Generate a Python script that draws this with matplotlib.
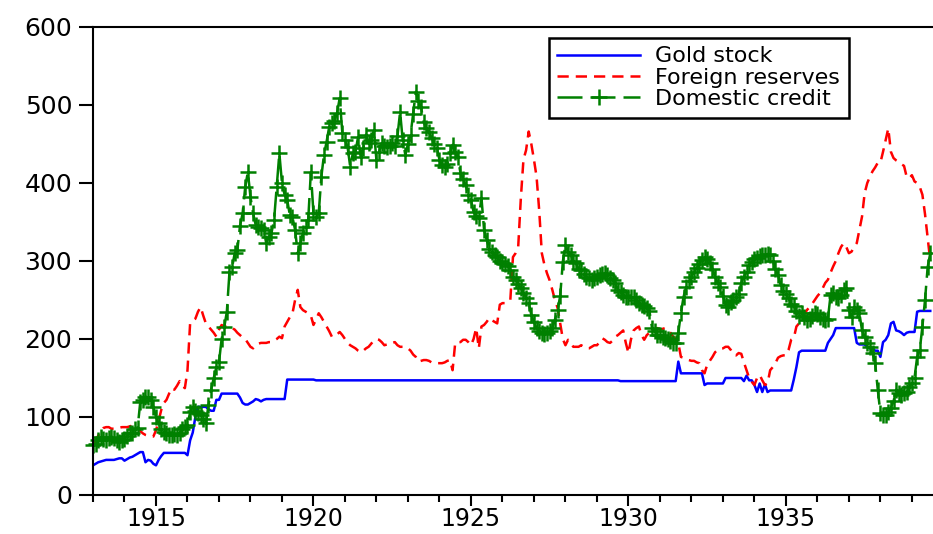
import numpy as np
import matplotlib
matplotlib.use("Agg")
import matplotlib.pyplot as plt
from matplotlib.ticker import MultipleLocator

plt.rcParams['font.family'] = ['DejaVu Sans']

start_year = 1913
tick_years = [1915, 1920, 1925, 1930, 1935]
y_ticks = [0, 100, 200, 300, 400, 500, 600]

gold_stock = [
    38, 40, 42, 43, 44, 45, 45, 45, 45, 46, 47, 47,            # 1913
    44, 46, 48, 49, 51, 53, 55, 55, 42, 45, 44, 40,            # 1914
    38, 45, 50, 54, 54, 54, 54, 54, 54, 54, 54, 54,            # 1915
    51, 70, 80, 100, 113, 113, 113, 113, 110, 108, 108, 122,   # 1916
    122, 130, 130, 130, 130, 130, 130, 130, 125, 118, 116, 116,  # 1917
    118, 120, 123, 122, 120, 122, 123, 123, 123, 123, 123, 123,  # 1918
    123, 123, 148, 148, 148, 148, 148, 148, 148, 148, 148, 148,  # 1919
    148, 147, 147, 147, 147, 147, 147, 147, 147, 147, 147, 147,  # 1920
    147, 147, 147, 147, 147, 147, 147, 147, 147, 147, 147, 147,  # 1921
    147, 147, 147, 147, 147, 147, 147, 147, 147, 147, 147, 147,  # 1922
    147, 147, 147, 147, 147, 147, 147, 147, 147, 147, 147, 147,  # 1923
    147, 147, 147, 147, 147, 147, 147, 147, 147, 147, 147, 147,  # 1924
    147, 147, 147, 147, 147, 147, 147, 147, 147, 147, 147, 147,  # 1925
    147, 147, 147, 147, 147, 147, 147, 147, 147, 147, 147, 147,  # 1926
    147, 147, 147, 147, 147, 147, 147, 147, 147, 147, 147, 147,  # 1927
    147, 147, 147, 147, 147, 147, 147, 147, 147, 147, 147, 147,  # 1928
    147, 147, 147, 147, 147, 147, 147, 147, 147, 146, 146, 146,  # 1929
    146, 146, 146, 146, 146, 146, 146, 146, 146, 146, 146, 146,  # 1930
    146, 146, 146, 146, 146, 146, 146, 171, 156, 156, 156, 156,  # 1931
    156, 156, 156, 156, 156, 141, 143, 143, 143, 143, 143, 143,  # 1932
    143, 150, 150, 150, 150, 150, 150, 150, 146, 153, 147, 147,  # 1933
    141, 132, 143, 132, 142, 132, 134, 134, 134, 134, 134, 134,  # 1934
    134, 134, 134, 148, 164, 183, 185, 185, 185, 185, 185, 185,  # 1935
    185, 185, 185, 185, 195, 200, 205, 214, 214, 214, 214, 214,  # 1936
    214, 214, 214, 195, 193, 193, 193, 190, 188, 188, 185, 185,  # 1937
    177, 196, 199, 205, 220, 222, 211, 210, 208, 205, 208, 209,  # 1938
    209, 209, 235, 236, 236, 236, 236, 236,                      # 1939
]

foreign_reserves = [
    66, 70, 76, 82, 86, 87, 87, 85, 85, 86, 86, 87,              # 1913
    87, 87, 88, 89, 88, 87, 82, 79, 77, 76, 75, 75,              # 1914
    83, 95, 109, 118, 122, 130, 137, 135, 140, 146, 140, 137,    # 1915
    160, 220, 224, 226, 235, 241, 230, 220, 216, 212, 208, 203,  # 1916
    212, 218, 216, 216, 214, 214, 212, 208, 205, 202, 200, 195,  # 1917
    190, 188, 192, 194, 195, 195, 195, 196, 196, 198, 200, 203,  # 1918
    201, 216, 222, 228, 233, 250, 263, 241, 237, 235, 233, 230,  # 1919
    218, 225, 233, 228, 222, 216, 210, 203, 203, 206, 209, 205,  # 1920
    200, 195, 192, 190, 188, 185, 183, 185, 188, 190, 194, 198,  # 1921
    200, 199, 196, 192, 193, 195, 195, 196, 192, 190, 190, 188,  # 1922
    188, 185, 180, 177, 171, 172, 173, 173, 172, 170, 170, 169,  # 1923
    169, 169, 170, 172, 173, 160, 195, 196, 196, 199, 199, 196,  # 1924
    192, 200, 214, 188, 216, 218, 222, 227, 224, 222, 220, 244,  # 1925
    246, 246, 247, 250, 305, 310, 318, 380, 430, 442, 466, 450,  # 1926
    430, 408, 365, 310, 295, 284, 275, 263, 250, 240, 220, 200,  # 1927
    192, 199, 195, 190, 190, 190, 192, 190, 188, 188, 190, 192,  # 1928
    192, 196, 201, 199, 196, 195, 198, 203, 205, 208, 211, 195,  # 1929
    182, 200, 211, 214, 216, 205, 199, 205, 208, 211, 212, 214,  # 1930
    212, 213, 214, 212, 208, 203, 200, 195, 177, 176, 174, 173,  # 1931
    172, 172, 170, 169, 160, 156, 167, 172, 177, 183, 186, 188,  # 1932
    188, 190, 190, 186, 180, 179, 182, 181, 170, 160, 150, 145,  # 1933
    141, 150, 154, 147, 141, 143, 160, 164, 169, 176, 178, 179,  # 1934
    179, 186, 199, 201, 216, 220, 228, 232, 237, 241, 245, 250,  # 1935
    255, 259, 265, 272, 276, 285, 293, 300, 310, 318, 323, 318,  # 1936
    310, 312, 318, 323, 340, 357, 387, 400, 408, 415, 420, 426,  # 1937
    426, 440, 455, 470, 440, 432, 429, 427, 424, 422, 408, 406,  # 1938
    410, 402, 400, 395, 385, 360, 330, 300,                      # 1939
]

domestic_credit = [
    64, 66, 70, 74, 72, 71, 73, 75, 73, 71, 68, 70,              # 1913
    72, 76, 79, 80, 84, 86, 119, 122, 126, 126, 122, 113,        # 1914
    100, 92, 85, 81, 79, 77, 77, 78, 77, 80, 84, 87,             # 1915
    90, 106, 113, 108, 105, 103, 98, 92, 115, 135, 150, 164,     # 1916
    170, 200, 215, 235, 286, 292, 310, 314, 345, 361, 395, 414,  # 1917
    382, 361, 346, 344, 342, 340, 323, 331, 336, 353, 395, 438,  # 1918
    400, 385, 378, 359, 356, 340, 310, 323, 336, 344, 353, 414,  # 1919
    361, 356, 361, 408, 436, 453, 472, 477, 480, 490, 509, 464,  # 1920
    455, 446, 421, 438, 440, 459, 433, 445, 462, 451, 455, 468,  # 1921
    429, 440, 451, 448, 446, 448, 451, 447, 460, 491, 455, 436,  # 1922
    450, 462, 489, 517, 505, 497, 478, 470, 465, 458, 450, 445,  # 1923
    430, 423, 421, 425, 438, 449, 440, 433, 413, 405, 397, 385,  # 1924
    378, 363, 358, 355, 381, 340, 327, 315, 311, 308, 305, 300,  # 1925
    297, 296, 293, 288, 280, 276, 270, 265, 259, 253, 246, 231,  # 1926
    222, 214, 210, 208, 206, 208, 210, 214, 225, 237, 255, 299,  # 1927
    321, 312, 308, 300, 297, 290, 288, 283, 280, 278, 276, 278,  # 1928
    280, 282, 283, 284, 282, 278, 276, 272, 263, 260, 256, 254,  # 1929
    254, 254, 254, 250, 246, 244, 242, 240, 236, 214, 210, 205,  # 1930
    205, 203, 201, 200, 198, 195, 195, 208, 233, 254, 267, 275,  # 1931
    280, 286, 291, 296, 301, 305, 303, 297, 290, 280, 272, 267,  # 1932
    255, 244, 241, 248, 250, 254, 258, 272, 280, 286, 295, 299,  # 1933
    302, 304, 306, 308, 308, 309, 308, 300, 290, 282, 269, 262,  # 1934
    258, 252, 245, 242, 236, 230, 233, 228, 224, 226, 230, 233,  # 1935
    232, 228, 226, 224, 226, 256, 259, 254, 252, 256, 263, 265,  # 1936
    237, 228, 241, 237, 233, 211, 203, 195, 190, 182, 169, 135,  # 1937
    105, 103, 103, 106, 112, 120, 135, 131, 128, 131, 132, 138,  # 1938
    143, 150, 177, 186, 216, 250, 292, 310,                      # 1939
]

n = len(gold_stock)
t = start_year + np.arange(n) / 12.0

fig = plt.figure(figsize=(9.33, 5.34), dpi=100)
ax = fig.add_axes([93 / 933, 1 - 495 / 534, 1 - 93 / 933, (495 - 27) / 534])

ax.plot(t, gold_stock, color='#0000ff', lw=1.8, label='Gold stock')
ax.plot(t, foreign_reserves, color='#ff0000', lw=1.8, linestyle=(0, (4.5, 2.8)),
        label='Foreign reserves')
ax.plot(t, domestic_credit, color='#008000', lw=1.8, linestyle=(0, (10, 3.2)),
        marker='+', markersize=12, markeredgewidth=1.8, clip_on=False,
        label='Domestic credit')

ax.set_xlim(1913.0, 1939.67)
ax.set_ylim(0, 600)

ax.set_xticks(tick_years)
ax.set_xticklabels([str(y) for y in tick_years])
ax.xaxis.set_minor_locator(MultipleLocator(1))
ax.set_yticks(y_ticks)
ax.set_yticklabels([str(v) for v in y_ticks])

ax.tick_params(axis='both', which='major', direction='out', width=1.5,
               labelsize=17, colors='black')
ax.tick_params(axis='y', which='major', length=10, pad=5, labelsize=18)
ax.tick_params(axis='x', which='major', length=8, pad=0.5)
ax.tick_params(axis='x', which='minor', direction='out', length=5, width=1.5)
ax.tick_params(axis='y', which='minor', left=False)

for side in ['left', 'top', 'bottom']:
    ax.spines[side].set_linewidth(1.5)
    ax.spines[side].set_color('black')
ax.spines['right'].set_visible(False)

leg = ax.legend(loc='upper left', bbox_to_anchor=(549 / 933, 1 - 38 / 534),
                bbox_transform=fig.transFigure, borderaxespad=0,
                fontsize=16, frameon=True, fancybox=False, framealpha=1,
                edgecolor='black', handlelength=3.7, handletextpad=0.7,
                borderpad=0.38, labelspacing=0.06, numpoints=1)
leg.get_frame().set_linewidth(1.8)

fig.savefig('out.png', dpi=100)
